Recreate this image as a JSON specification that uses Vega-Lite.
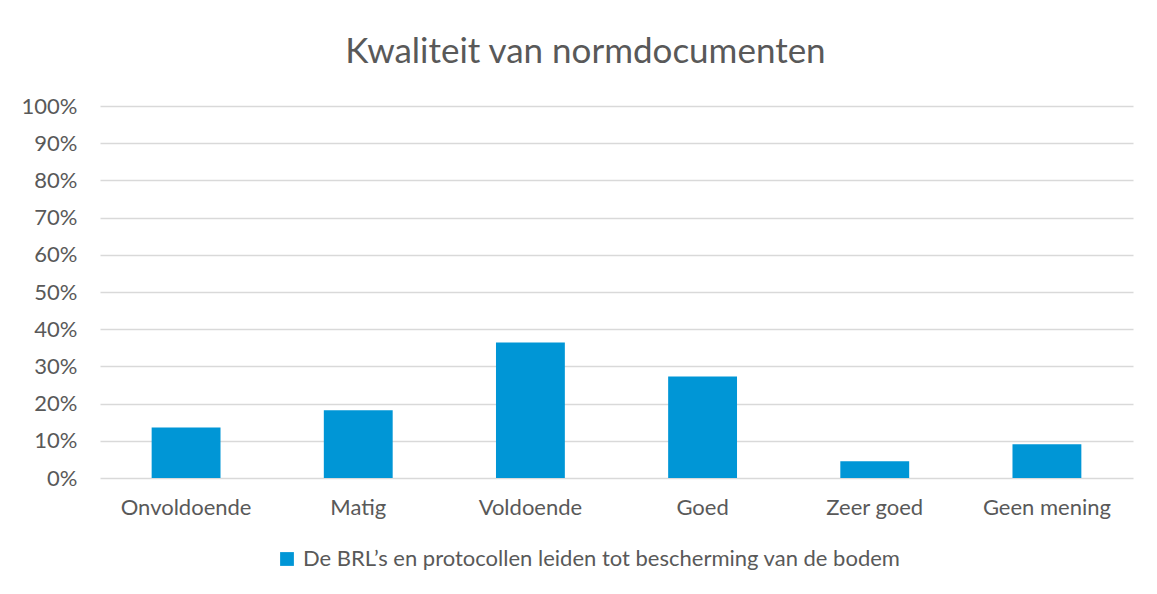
{
  "$schema": "https://vega.github.io/schema/vega-lite/v6.json",
  "width": 1033,
  "height": 372,
  "autosize": {"type": "none"},
  "padding": {"left": 100, "top": 106, "right": 24, "bottom": 116},
  "background": "white",
  "title": {
    "text": "Kwaliteit van normdocumenten",
    "font": "Lato",
    "fontSize": 35,
    "fontWeight": "normal",
    "color": "#595959",
    "anchor": "middle",
    "dx": -31,
    "offset": 25
  },
  "data": {
    "values": [
      {"categorie": "Onvoldoende", "aandeel": 0.136, "reeks": "De BRL’s en protocollen leiden tot bescherming van de bodem"},
      {"categorie": "Matig", "aandeel": 0.182, "reeks": "De BRL’s en protocollen leiden tot bescherming van de bodem"},
      {"categorie": "Voldoende", "aandeel": 0.364, "reeks": "De BRL’s en protocollen leiden tot bescherming van de bodem"},
      {"categorie": "Goed", "aandeel": 0.273, "reeks": "De BRL’s en protocollen leiden tot bescherming van de bodem"},
      {"categorie": "Zeer goed", "aandeel": 0.045, "reeks": "De BRL’s en protocollen leiden tot bescherming van de bodem"},
      {"categorie": "Geen mening", "aandeel": 0.091, "reeks": "De BRL’s en protocollen leiden tot bescherming van de bodem"}
    ]
  },
  "mark": {"type": "bar"},
  "encoding": {
    "x": {
      "field": "categorie",
      "type": "nominal",
      "sort": null,
      "scale": {"paddingInner": 0.6, "paddingOuter": 0.3},
      "axis": {
        "title": null,
        "labelAngle": 0,
        "labelFont": "Lato",
        "labelFontSize": 22,
        "labelColor": "#595959",
        "labelPadding": 19,
        "ticks": false,
        "domain": false,
        "grid": false
      }
    },
    "y": {
      "field": "aandeel",
      "type": "quantitative",
      "scale": {"domain": [0, 1], "nice": false},
      "axis": {
        "title": null,
        "format": ".0%",
        "values": [0, 0.1, 0.2, 0.3, 0.4, 0.5, 0.6, 0.7, 0.8, 0.9, 1],
        "labelFont": "Lato",
        "labelFontSize": 22,
        "labelColor": "#595959",
        "labelPadding": 23,
        "ticks": false,
        "domain": false,
        "grid": true,
        "gridColor": "#d9d9d9",
        "gridWidth": 1.3
      }
    },
    "color": {
      "field": "reeks",
      "type": "nominal",
      "scale": {"range": ["#0096d6"]},
      "legend": {
        "title": null,
        "orient": "none",
        "legendX": 176,
        "legendY": 442,
        "symbolType": "square",
        "symbolSize": 190,
        "symbolStrokeWidth": 0,
        "labelFont": "Lato",
        "labelFontSize": 22,
        "labelColor": "#595959",
        "labelLimit": 1000,
        "labelOffset": 5,
        "symbolOffset": 0
      }
    }
  },
  "config": {
    "view": {"stroke": null}
  }
}
